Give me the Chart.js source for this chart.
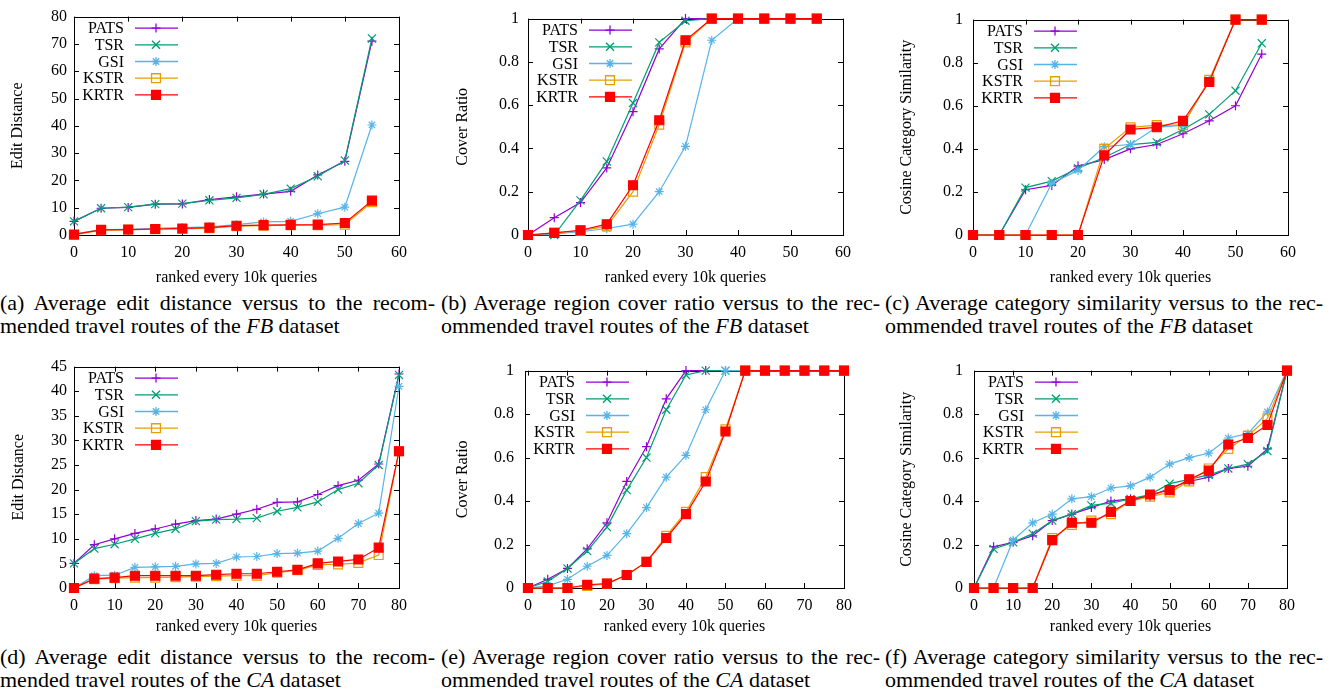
<!DOCTYPE html>
<html>
<head>
<meta charset="utf-8">
<script src="https://cdn.jsdelivr.net/npm/chart.js@4.4.0/dist/chart.umd.min.js"></script>
<style>
    body { margin: 0; background: #fff; width: 1340px; height: 695px; overflow: hidden; position: relative; }
    canvas { position: absolute; }
    .cap { position: absolute; font-family: "Liberation Serif", serif; font-size: 22px; line-height: 23px; color: #000; }
    .cap .l1 { text-align: justify; text-align-last: justify; }
</style>
</head>
<body>
<canvas id="chartA" width="430" height="290" style="left:0px;top:0px"></canvas>
<canvas id="chartB" width="440" height="290" style="left:440px;top:0px"></canvas>
<canvas id="chartC" width="460" height="290" style="left:880px;top:0px"></canvas>
<canvas id="chartD" width="430" height="290" style="left:0px;top:350px"></canvas>
<canvas id="chartE" width="440" height="290" style="left:440px;top:350px"></canvas>
<canvas id="chartF" width="460" height="290" style="left:880px;top:350px"></canvas>

<div class="cap" style="left:0px;top:291px;width:435px"><div class="l1">(a) Average edit distance versus to the recom-</div><div>mended travel routes of the <i>FB</i> dataset</div></div>
<div class="cap" style="left:441px;top:291px;width:439px"><div class="l1">(b) Average region cover ratio versus to the rec-</div><div>ommended travel routes of the <i>FB</i> dataset</div></div>
<div class="cap" style="left:885px;top:291px;width:438px"><div class="l1">(c) Average category similarity versus to the rec-</div><div>ommended travel routes of the <i>FB</i> dataset</div></div>
<div class="cap" style="left:0px;top:645px;width:435px"><div class="l1">(d) Average edit distance versus to the recom-</div><div>mended travel routes of the <i>CA</i> dataset</div></div>
<div class="cap" style="left:441px;top:645px;width:439px"><div class="l1">(e) Average region cover ratio versus to the rec-</div><div>ommended travel routes of the <i>CA</i> dataset</div></div>
<div class="cap" style="left:885px;top:645px;width:438px"><div class="l1">(f) Average category similarity versus to the rec-</div><div>ommended travel routes of the <i>CA</i> dataset</div></div>

<script>
// x positions (ranked every 10k queries)
const xFB = [0, 5, 10, 15, 20, 25, 30, 35, 40, 45, 50, 55];
const xCA = [0, 5, 10, 15, 20, 25, 30, 35, 40, 45, 50, 55, 60, 65, 70, 75, 80];
const seriesNames = ['PATS', 'TSR', 'GSI', 'KSTR', 'KRTR'];

// tick labels
const xTicksFB = [0, 10, 20, 30, 40, 50, 60];
const xTicksCA = [0, 10, 20, 30, 40, 50, 60, 70, 80];
const yTicksEditFB = [0, 10, 20, 30, 40, 50, 60, 70, 80];
const yTicksEditCA = [0, 5, 10, 15, 20, 25, 30, 35, 40, 45];
const yTicksRatio = [0, 0.2, 0.4, 0.6, 0.8, 1];

// (a) FB edit distance
const fbEditPATS = [5, 9.8, 10.1, 11.3, 11.4, 13, 14, 15, 16, 22, 27, 71];
const fbEditTSR = [5, 9.8, 10.2, 11.3, 11.5, 12.7, 13.6, 14.9, 17, 21.5, 27.3, 72];
const fbEditGSI = [0.3, 2, 2.1, 2.4, 2.7, 3, 3.8, 4.8, 5, 7.8, 10.2, 40.3];
const fbEditKSTR = [0, 1.8, 1.9, 2.1, 2.2, 2.5, 3.2, 3.4, 3.6, 3.6, 3.8, 12];
const fbEditKRTR = [0.2, 1.9, 2, 2.2, 2.4, 2.7, 3.4, 3.6, 3.7, 3.8, 4.4, 12.6];

// (b) FB cover ratio
const fbCoverPATS = [0, 0.08, 0.15, 0.31, 0.57, 0.86, 1, 1, 1, 1, 1, 1];
const fbCoverTSR = [0, 0, 0.16, 0.34, 0.61, 0.89, 0.99, 1, 1, 1, 1, 1];
const fbCoverGSI = [0, 0.005, 0.015, 0.03, 0.05, 0.2, 0.41, 0.9, 1, 1, 1, 1];
const fbCoverKSTR = [0, 0.01, 0.02, 0.04, 0.2, 0.51, 0.89, 1, 1, 1, 1, 1];
const fbCoverKRTR = [0, 0.01, 0.022, 0.05, 0.23, 0.53, 0.9, 1, 1, 1, 1, 1];

// (c) FB cosine category similarity
const fbCosPATS = [0, 0, 0.21, 0.23, 0.32, 0.35, 0.4, 0.42, 0.47, 0.53, 0.6, 0.84];
const fbCosTSR = [0, 0, 0.22, 0.25, 0.31, 0.36, 0.42, 0.43, 0.49, 0.56, 0.67, 0.89];
const fbCosGSI = [0, 0, 0, 0.24, 0.3, 0.41, 0.42, 0.5, 0.51, 0.72, 1, 1];
const fbCosKSTR = [0, 0, 0, 0, 0, 0.4, 0.5, 0.51, 0.51, 0.72, 1, 1];
const fbCosKRTR = [0, 0, 0, 0, 0, 0.37, 0.49, 0.5, 0.53, 0.71, 1, 1];

// (d) CA edit distance
const caEditPATS = [5, 8.8, 10, 11.1, 12, 13, 13.7, 14, 15, 16, 17.4, 17.5, 19, 20.8, 21.9, 25.2, 43.5];
const caEditTSR = [5, 8, 8.9, 10, 11.1, 12, 13.6, 13.9, 14, 14.2, 15.6, 16.4, 17.5, 20, 21.3, 25, 43.3];
const caEditGSI = [0, 2.5, 2.6, 4.2, 4.3, 4.4, 4.9, 5, 6.3, 6.4, 7, 7.1, 7.5, 10.1, 13.1, 15.2, 41];
const caEditKSTR = [0, 1.8, 2, 2.1, 2.1, 2.2, 2.3, 2.4, 2.5, 2.5, 3.1, 3.6, 4.7, 4.8, 5.1, 6.7, 27.8];
const caEditKRTR = [0, 1.9, 2.1, 2.5, 2.5, 2.5, 2.5, 2.7, 2.9, 2.9, 3.3, 3.7, 5, 5.4, 5.8, 8.2, 27.8];

// (e) CA cover ratio
const caCoverPATS = [0, 0.04, 0.09, 0.18, 0.3, 0.49, 0.65, 0.87, 1, 1, 1, 1, 1, 1, 1, 1, 1];
const caCoverTSR = [0, 0.03, 0.09, 0.17, 0.28, 0.45, 0.6, 0.82, 0.98, 1, 1, 1, 1, 1, 1, 1, 1];
const caCoverGSI = [0, 0.01, 0.04, 0.1, 0.15, 0.25, 0.37, 0.51, 0.61, 0.82, 1, 1, 1, 1, 1, 1, 1];
const caCoverKSTR = [0, 0, 0, 0.01, 0.02, 0.06, 0.12, 0.24, 0.35, 0.51, 0.73, 1, 1, 1, 1, 1, 1];
const caCoverKRTR = [0, 0, 0, 0.015, 0.02, 0.06, 0.12, 0.23, 0.34, 0.49, 0.72, 1, 1, 1, 1, 1, 1];

// (f) CA cosine category similarity
const caCosPATS = [0, 0.19, 0.21, 0.24, 0.31, 0.34, 0.37, 0.4, 0.41, 0.42, 0.46, 0.49, 0.51, 0.55, 0.56, 0.64, 1];
const caCosTSR = [0, 0.18, 0.21, 0.25, 0.31, 0.34, 0.38, 0.39, 0.41, 0.43, 0.48, 0.5, 0.52, 0.55, 0.57, 0.63, 1];
const caCosGSI = [0, 0, 0.22, 0.3, 0.34, 0.41, 0.42, 0.46, 0.47, 0.51, 0.57, 0.6, 0.62, 0.69, 0.71, 0.81, 1];
const caCosKSTR = [0, 0, 0, 0, 0.23, 0.29, 0.31, 0.34, 0.4, 0.42, 0.44, 0.49, 0.55, 0.64, 0.7, 0.78, 1];
const caCosKRTR = [0, 0, 0, 0, 0.22, 0.3, 0.3, 0.35, 0.4, 0.43, 0.45, 0.5, 0.54, 0.66, 0.69, 0.75, 1];

const colors = ['#9400d3', '#009e73', '#56b4e9', '#e69f00', '#ff0000'];
const fills = ['#9400d3', '#009e73', '#56b4e9', 'rgba(0,0,0,0)', '#ff0000'];
const styles = ['cross', 'crossRot', 'star', 'rect', 'rect'];
const radii = [4.5, 5.7, 4.5, 6.3, 6.3];
const fontFamily = '"Liberation Serif", "Times New Roman", serif';

// gnuplot style box with inward ticks on all four sides
const framePlugin = {
    id: 'frame',
    beforeDatasetsDraw(chart) {
        const ctx = chart.ctx;
        const a = chart.chartArea;
        const tl = 5;
        ctx.save();
        ctx.strokeStyle = '#000';
        ctx.lineWidth = 1;
        ctx.beginPath();
        for (const t of chart.scales.y.ticks) {
            const y = Math.round(chart.scales.y.getPixelForValue(t.value)) + 0.5;
            ctx.moveTo(a.left, y); ctx.lineTo(a.left + tl, y);
            ctx.moveTo(a.right, y); ctx.lineTo(a.right - tl, y);
        }
        for (const t of chart.scales.x.ticks) {
            const x = Math.round(chart.scales.x.getPixelForValue(t.value)) + 0.5;
            ctx.moveTo(x, a.bottom); ctx.lineTo(x, a.bottom - tl);
            ctx.moveTo(x, a.top); ctx.lineTo(x, a.top + tl);
        }
        ctx.stroke();
        ctx.strokeRect(Math.round(a.left) + 0.5, Math.round(a.top) + 0.5, Math.round(a.right - a.left), Math.round(a.bottom - a.top));
        ctx.restore();
    }
};

// key in the top left corner: right aligned names, sample line on the right
const keyPlugin = {
    id: 'key',
    afterDatasetsDraw(chart) {
        const ctx = chart.ctx;
        const a = chart.chartArea;
        ctx.save();
        ctx.font = '16px ' + fontFamily;
        ctx.textAlign = 'right';
        ctx.textBaseline = 'middle';
        chart.data.datasets.forEach((ds, i) => {
            const y = a.top + 11.5 + i * 16.7;
            ctx.fillStyle = '#000';
            ctx.fillText(ds.label, a.left + 50, y + 1);
            ctx.strokeStyle = ds.borderColor;
            ctx.lineWidth = 1.3;
            ctx.beginPath();
            ctx.moveTo(a.left + 61, y);
            ctx.lineTo(a.left + 104, y);
            ctx.stroke();
            ctx.fillStyle = ds.pointBackgroundColor;
            Chart.helpers.drawPoint(ctx, {
                pointStyle: ds.pointStyle, radius: ds.pointRadius, rotation: 0, borderWidth: 1.2
            }, a.left + 82, y);
        });
        ctx.restore();
    }
};

function createChart(id, xs, series, opt) {
    const canvas = document.getElementById(id);
    const datasets = series.map((vals, i) => ({
        label: seriesNames[i],
        data: vals.map((v, j) => ({ x: xs[j], y: v })),
        borderColor: colors[i],
        backgroundColor: fills[i],
        pointBackgroundColor: fills[i],
        pointBorderColor: colors[i],
        pointStyle: styles[i],
        pointRadius: radii[i],
        pointBorderWidth: 1.2,
        borderWidth: 1.2,
        tension: 0,
        clip: false,
        order: 4 - i
    }));

    return new Chart(canvas, {
        type: 'line',
        data: { datasets: datasets },
        options: {
            responsive: false,
            animation: false,
            layout: { padding: { top: opt.padTop, right: opt.padRight, left: 0, bottom: 0 } },
            plugins: { legend: { display: false }, tooltip: { enabled: false } },
            scales: {
                x: {
                    type: 'linear',
                    min: opt.xMin,
                    max: opt.xMax,
                    afterBuildTicks: s => { s.ticks = opt.xTicks.map(v => ({ value: v })); },
                    afterFit: s => { s.height = opt.xHeight; },
                    grid: { display: false, drawTicks: false },
                    border: { display: false },
                    ticks: { color: '#000', font: { family: fontFamily, size: 16 }, padding: 8, maxRotation: 0, autoSkip: false },
                    title: { display: true, text: 'ranked every 10k queries', color: '#000', font: { family: fontFamily, size: 16 }, padding: { top: 0, bottom: opt.xTitlePad } }
                },
                y: {
                    min: 0,
                    max: opt.yMax,
                    afterBuildTicks: s => { s.ticks = opt.yTicks.map(v => ({ value: v })); },
                    afterFit: s => { s.width = opt.yWidth; },
                    grid: { display: false, drawTicks: false },
                    border: { display: false },
                    ticks: { color: '#000', font: { family: fontFamily, size: 16 }, padding: opt.yTickPad, callback: v => String(v) },
                    title: { display: true, text: opt.yTitle, color: '#000', font: { family: fontFamily, size: 16 }, padding: { top: opt.yTitlePad, bottom: 0 } }
                }
            }
        },
        plugins: [framePlugin, keyPlugin]
    });
}

createChart('chartA', xFB, [fbEditPATS, fbEditTSR, fbEditGSI, fbEditKSTR, fbEditKRTR], {
    xMin: 0, xMax: 60, xTicks: xTicksFB, yMax: 80, yTicks: yTicksEditFB, yTitle: 'Edit Distance',
    padTop: 11, padRight: 31, xHeight: 55, yWidth: 74, yTickPad: 7, yTitlePad: 8.4, xTitlePad: 2.7
});
createChart('chartB', xFB, [fbCoverPATS, fbCoverTSR, fbCoverGSI, fbCoverKSTR, fbCoverKRTR], {
    xMin: 0, xMax: 60, xTicks: xTicksFB, yMax: 1, yTicks: yTicksRatio, yTitle: 'Cover Ratio',
    padTop: 11, padRight: 37, xHeight: 55, yWidth: 88, yTickPad: 9, yTitlePad: 13.4, xTitlePad: 2.7
});
createChart('chartC', xFB, [fbCosPATS, fbCosTSR, fbCosGSI, fbCosKSTR, fbCosKRTR], {
    xMin: 0, xMax: 60, xTicks: xTicksFB, yMax: 1, yTicks: yTicksRatio, yTitle: 'Cosine Category Similarity',
    padTop: 11, padRight: 52, xHeight: 55, yWidth: 93, yTickPad: 10, yTitlePad: 17.4, xTitlePad: 2.7
});
createChart('chartD', xCA, [caEditPATS, caEditTSR, caEditGSI, caEditKSTR, caEditKRTR], {
    xMin: 0, xMax: 80, xTicks: xTicksCA, yMax: 45, yTicks: yTicksEditCA, yTitle: 'Edit Distance',
    padTop: 15, padRight: 31, xHeight: 52, yWidth: 74, yTickPad: 7, yTitlePad: 8.7, xTitlePad: 3.4
});
createChart('chartE', xCA, [caCoverPATS, caCoverTSR, caCoverGSI, caCoverKSTR, caCoverKRTR], {
    xMin: -0.75, xMax: 80, xTicks: xTicksCA, yMax: 1, yTicks: yTicksRatio, yTitle: 'Cover Ratio',
    padTop: 15, padRight: 36, xHeight: 52, yWidth: 85, yTickPad: 11, yTitlePad: 13, xTitlePad: 3.4
});
createChart('chartF', xCA, [caCosPATS, caCosTSR, caCosGSI, caCosKSTR, caCosKRTR], {
    xMin: 0, xMax: 80, xTicks: xTicksCA, yMax: 1, yTicks: yTicksRatio, yTitle: 'Cosine Category Similarity',
    padTop: 15, padRight: 53, xHeight: 52, yWidth: 94, yTickPad: 11, yTitlePad: 17, xTitlePad: 3.4
});
</script>
</body>
</html>
